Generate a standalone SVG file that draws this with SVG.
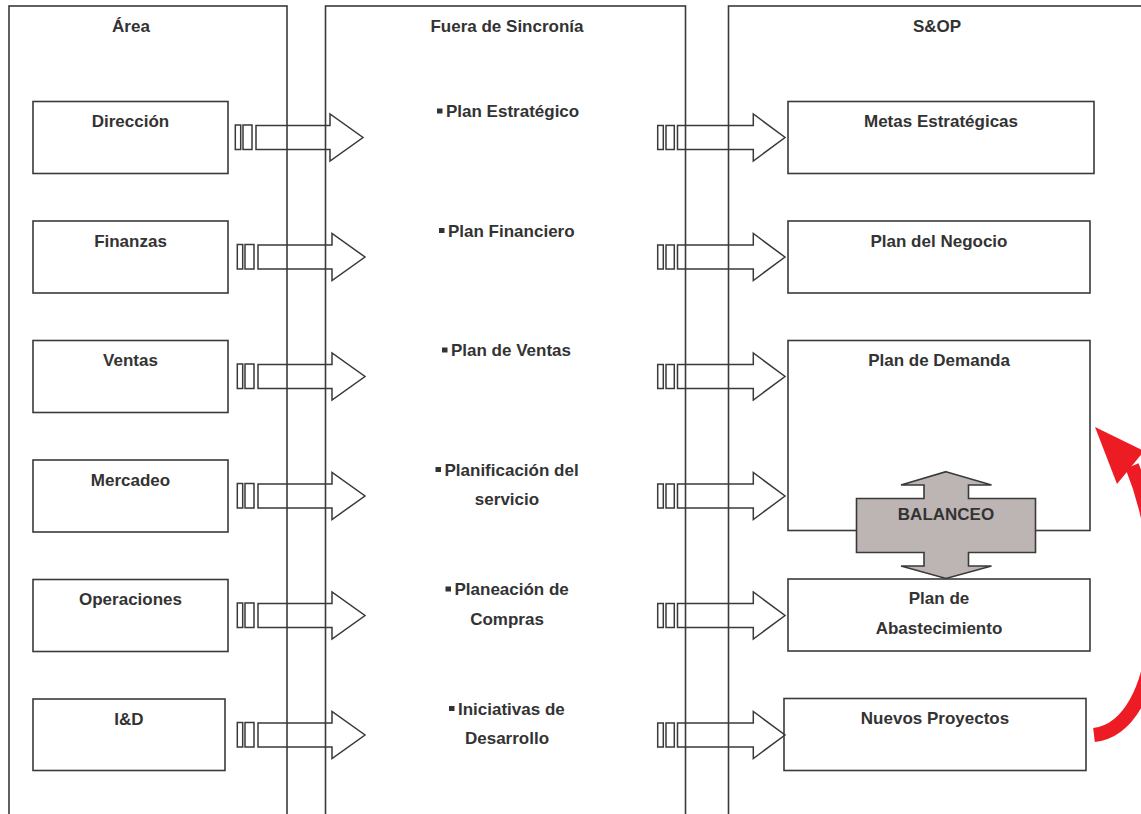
<svg xmlns="http://www.w3.org/2000/svg" xmlns:xlink="http://www.w3.org/1999/xlink" width="1141" height="814" viewBox="0 0 1141 814">
<style>
.col{fill:none;stroke:#3a3a3a;stroke-width:1.6}
.box{fill:#fff;stroke:#3a3a3a;stroke-width:1.6}
.t{font-family:"Liberation Sans",Arial,Helvetica,sans-serif;font-weight:bold;font-size:17px;fill:#333;text-anchor:middle}
.ts{font-family:"Liberation Sans",Arial,Helvetica,sans-serif;font-weight:bold;font-size:17px;fill:#333;text-anchor:start}
.arr{fill:none;stroke:#3a3a3a;stroke-width:1.5;stroke-linejoin:miter}
.bul{fill:#333}
.bal{fill:#bdb5b3;stroke:#3a3a3a;stroke-width:1.6}
</style>
<defs>
<g id="arrowL">
<rect class="arr" x="235.3" y="125" width="5.4" height="24.5"/>
<rect class="arr" x="243" y="125" width="9" height="24.5"/>
<polygon class="arr" points="256,125.5 330,125.5 330,114 363,137.5 330,161 330,149.5 256,149.5"/>
</g>
<g id="arrowR">
<rect class="arr" x="657.7" y="125.5" width="5.6" height="24"/>
<rect class="arr" x="666" y="125.5" width="8.3" height="24"/>
<polygon class="arr" points="677.5,125.5 753.3,125.5 753.3,114 785,137.5 753.3,161 753.3,149.5 677.5,149.5"/>
</g>
</defs>
<rect width="1141" height="814" fill="#fff"/>

<g id="col-area">
<rect class="col" x="9" y="6" width="278" height="830"/>
<text class="t" x="131" y="32">Área</text>
</g>
<g id="col-fuera">
<rect class="col" x="325.5" y="6" width="360" height="830"/>
<text class="t" x="507" y="32">Fuera de Sincronía</text>
</g>
<g id="col-sop">
<rect class="col" x="728.5" y="6" width="440" height="830"/>
<text class="t" x="937" y="32">S&amp;OP</text>
</g>

<g id="n-direccion"><rect class="box" x="33" y="101.5" width="195" height="72"/><text class="t" x="130.5" y="127">Dirección</text></g>
<g id="n-finanzas"><rect class="box" x="33" y="221" width="195" height="72"/><text class="t" x="130.5" y="246.5">Finanzas</text></g>
<g id="n-ventas"><rect class="box" x="33" y="340.5" width="195" height="72"/><text class="t" x="130.5" y="366">Ventas</text></g>
<g id="n-mercadeo"><rect class="box" x="33" y="460" width="195" height="72"/><text class="t" x="130.5" y="485.5">Mercadeo</text></g>
<g id="n-operaciones"><rect class="box" x="33" y="579.5" width="195" height="72"/><text class="t" x="130.5" y="605">Operaciones</text></g>
<g id="n-id"><rect class="box" x="33" y="699" width="192" height="71.5"/><text class="t" x="129" y="724.5">I&amp;D</text></g>

<g id="m-estrategico"><rect class="bul" x="437" y="108.5" width="5.5" height="5"/><text class="ts" x="446" y="117">Plan Estratégico</text></g>
<g id="m-financiero"><rect class="bul" x="439" y="228" width="5.5" height="5"/><text class="ts" x="448" y="236.5">Plan Financiero</text></g>
<g id="m-ventas"><rect class="bul" x="442" y="347.5" width="5.5" height="5"/><text class="ts" x="451" y="356">Plan de Ventas</text></g>
<g id="m-servicio"><rect class="bul" x="435.5" y="467" width="5.5" height="5"/><text class="ts" x="444.5" y="475.5">Planificación del</text><text class="t" x="507" y="505">servicio</text></g>
<g id="m-compras"><rect class="bul" x="445.5" y="586.5" width="5.5" height="5"/><text class="ts" x="454.5" y="595">Planeación de</text><text class="t" x="507" y="624.5">Compras</text></g>
<g id="m-desarrollo"><rect class="bul" x="449" y="706" width="5.5" height="5"/><text class="ts" x="458" y="714.5">Iniciativas de</text><text class="t" x="507" y="744">Desarrollo</text></g>

<g id="s-metas"><rect class="box" x="788" y="101.5" width="306" height="72"/><text class="t" x="941" y="127">Metas Estratégicas</text></g>
<g id="s-negocio"><rect class="box" x="788" y="221" width="302" height="72"/><text class="t" x="939" y="246.5">Plan del Negocio</text></g>
<g id="s-demanda"><rect class="box" x="788" y="340.5" width="302" height="190"/><text class="t" x="939" y="366">Plan de Demanda</text></g>
<g id="s-abastecimiento"><rect class="box" x="788" y="579" width="302" height="72"/><text class="t" x="939" y="604">Plan de</text><text class="t" x="939" y="634">Abastecimiento</text></g>
<g id="s-nuevos"><rect class="box" x="784" y="698.5" width="302" height="72"/><text class="t" x="935" y="724">Nuevos Proyectos</text></g>

<g id="connectors">
<use xlink:href="#arrowL"/>
<use xlink:href="#arrowL" transform="translate(2,119.5)"/>
<use xlink:href="#arrowL" transform="translate(2,239)"/>
<use xlink:href="#arrowL" transform="translate(2,358.5)"/>
<use xlink:href="#arrowL" transform="translate(2,478)"/>
<use xlink:href="#arrowL" transform="translate(2,597.5)"/>
<use xlink:href="#arrowR"/>
<use xlink:href="#arrowR" transform="translate(0,119.5)"/>
<use xlink:href="#arrowR" transform="translate(0,239)"/>
<use xlink:href="#arrowR" transform="translate(0,358.5)"/>
<use xlink:href="#arrowR" transform="translate(0,478)"/>
<use xlink:href="#arrowR" transform="translate(0,597.5)"/>
<path d="M1094,735 C1128,731 1153,690 1156,615 C1158,555 1148,505 1132,466" fill="none" stroke="#ed1c24" stroke-width="14"/>
<polygon points="1095,427 1117,484 1144,451" fill="#ed1c24"/>
</g>

<g id="n-balanceo">
<polygon class="bal" points="946,471.7 991.5,485 968.5,485 968.5,498.5 1035.5,498.5 1035.5,552.5 968.5,552.5 968.5,566 991.5,566 946,578.5 901,566 924,566 924,552.5 856.5,552.5 856.5,498.5 924,498.5 924,485 901,485"/>
<text class="t" x="946" y="520">BALANCEO</text>
</g>
</svg>
